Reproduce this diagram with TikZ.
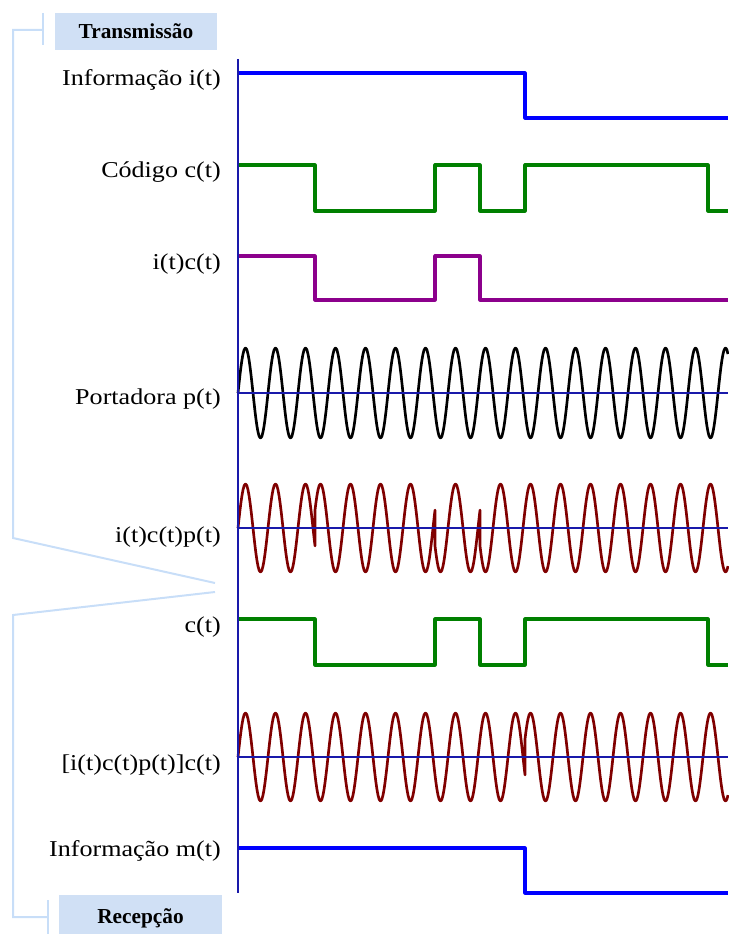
\documentclass[tikz,border=0pt]{standalone}
\usepackage{fontspec}
\setmainfont{Liberation Serif}
\newfontfamily\lblfont[FakeStretch=1.15]{Liberation Serif}
\definecolor{axisc}{RGB}{25,25,170}
\definecolor{infoc}{RGB}{0,0,255}
\definecolor{codec}{RGB}{0,128,0}
\definecolor{prodc}{RGB}{140,0,140}
\definecolor{modc}{RGB}{128,0,0}
\definecolor{boxc}{RGB}{208,224,245}
\definecolor{brkc}{RGB}{200,222,248}
\begin{document}
\begin{tikzpicture}[x=0.75pt,y=-0.75pt,
  lbl/.style={anchor=east,inner sep=0pt,font=\lblfont\fontsize{17}{20}\selectfont},
  ttl/.style={fill=boxc,inner sep=0pt,font=\bfseries\fontsize{16}{19}\selectfont},
  axisline/.style={draw=axisc,line width=1.5pt},
  sig/.style={line width=2.4pt,line join=round},
  wave/.style={line width=2pt,line join=round},
  brk/.style={draw=brkc,line width=1.5pt}]
\useasboundingbox (0,0) rectangle (728,934);

% title boxes
\node[ttl,minimum width=121.5pt,minimum height=27.75pt] (tx) at (136,31.5) {Transmissão};
\node[ttl,minimum width=122.25pt,minimum height=34.5pt] (rx) at (140.5,918) {Recepção};

% bracket lines
\coordinate (b1) at (43,13);
\coordinate (b2) at (43,45);
\coordinate (b3) at (43,30);
\coordinate (b4) at (13,30);
\coordinate (b5) at (13,538);
\coordinate (b6) at (215,583);
\coordinate (b7) at (215,592);
\coordinate (b8) at (13,615);
\coordinate (b9) at (13,917);
\coordinate (b10) at (48,917);
\coordinate (b11) at (48,900);
\coordinate (b12) at (48,934);
\draw[brk] (b1) -- (b2);
\draw[brk] (b3) -- (b4) -- (b5) -- (b6);
\draw[brk] (b7) -- (b8) -- (b9) -- (b10);
\draw[brk] (b11) -- (b12);

% labels
\node[lbl] (l1) at (221,80) {Informação i(t)};
\node[lbl] (l2) at (221,172) {Código c(t)};
\node[lbl] (l3) at (221,264) {i(t)c(t)};
\node[lbl] (l4) at (221,399) {Portadora p(t)};
\node[lbl] (l5) at (221,537) {i(t)c(t)p(t)};
\node[lbl] (l6) at (221,627) {c(t)};
\node[lbl] (l7) at (221,765) {[i(t)c(t)p(t)]c(t)};
\node[lbl] (l8) at (221,851) {Informação m(t)};

% waveforms
\draw[wave,black] plot[domain=238:728,samples=491] (\x,{393-45*sin(12*(\x-238))});
\draw[wave,modc] plot[domain=238:315,samples=78] (\x,{528-44*sin(12*(\x-238))})
  -- plot[domain=315:435,samples=121] (\x,{528+44*sin(12*(\x-238))})
  -- plot[domain=435:480,samples=46] (\x,{528-44*sin(12*(\x-238))})
  -- plot[domain=480:728,samples=249] (\x,{528+44*sin(12*(\x-238))});
\draw[wave,modc] plot[domain=238:525,samples=288] (\x,{757-44*sin(12*(\x-238))})
  -- plot[domain=525:728,samples=204] (\x,{757+44*sin(12*(\x-238))});

% horizontal axes
\coordinate (h1a) at (238,393); \coordinate (h1b) at (728,393);
\coordinate (h2a) at (238,528); \coordinate (h2b) at (728,528);
\coordinate (h3a) at (238,757); \coordinate (h3b) at (728,757);
\draw[axisline] (h1a) -- (h1b);
\draw[axisline] (h2a) -- (h2b);
\draw[axisline] (h3a) -- (h3b);

% square signals
\draw[sig,infoc] (238,73) -- (525,73) -- (525,118) -- (728,118);
\draw[sig,codec] (238,165) -- (315,165) -- (315,211) -- (435,211) -- (435,165) -- (480,165)
  -- (480,211) -- (525,211) -- (525,165) -- (708,165) -- (708,211) -- (728,211);
\draw[sig,prodc] (238,256) -- (315,256) -- (315,300) -- (435,300) -- (435,256) -- (480,256)
  -- (480,300) -- (728,300);
\draw[sig,codec] (238,619) -- (315,619) -- (315,665) -- (435,665) -- (435,619) -- (480,619)
  -- (480,665) -- (525,665) -- (525,619) -- (708,619) -- (708,665) -- (728,665);
\draw[sig,infoc] (238,848) -- (525,848) -- (525,893) -- (728,893);

% vertical axis
\coordinate (vtop) at (238,59);
\coordinate (vbot) at (238,893);
\draw[axisline] (vtop) -- (vbot);
\end{tikzpicture}
\end{document}
